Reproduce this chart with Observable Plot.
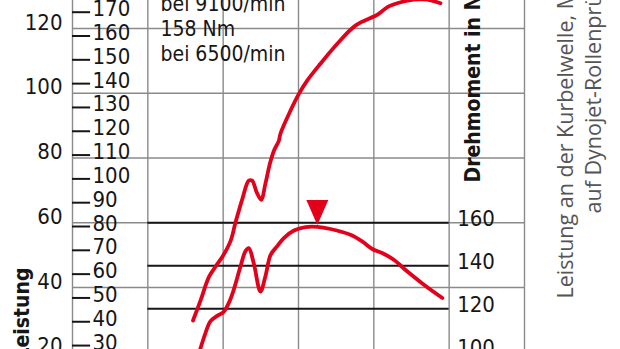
<!DOCTYPE html>
<html><head><meta charset="utf-8">
<script src="https://cdn.jsdelivr.net/npm/d3@7"></script>
<script src="https://cdn.jsdelivr.net/npm/@observablehq/plot@0.6"></script>
<style>
html,body{margin:0;padding:0;background:#fff;overflow:hidden;width:620px;height:349px}
#chart svg{display:block;overflow:hidden}
</style></head><body><div id="chart"></div>
<script>
// ---- data ----
const rpmTicks = [0, 2000, 4000, 6000, 8000, 10000, 12000];
const kwTicks = [20, 40, 60, 80, 100, 120, 140];
const psTicks = [20, 30, 40, 50, 60, 70, 80, 90, 100, 110, 120, 130, 140, 150, 160, 170];
const nmTicks = [100, 120, 140, 160];

const powerRpm = [3200, 3400, 3620, 3800, 4000, 4200, 4330, 4510, 4680, 4770, 4890, 5010, 5120, 5240, 5350, 5480, 5520, 5790, 6010, 6230, 6580, 7030, 7510, 8000, 8130, 8360, 8710, 9060, 9420, 9770];
const powerKw  = [29.8, 36.0, 43.2, 46.5, 49.9, 54.5, 60.2, 67.4, 73.0, 73.0, 69.4, 67.1, 72.0, 78.2, 82.3, 85.4, 87.5, 94.7, 99.8, 103.9, 109.1, 115.3, 120.9, 123.7, 124.5, 126.6, 128.1, 128.9, 128.9, 127.8];

const torqueRpm = [3210, 3400, 3530, 3660, 3840, 4000, 4150, 4280, 4460, 4590, 4680, 4810, 4990, 5120, 5260, 5430, 5610, 5880, 6190, 6500, 6850, 7380, 7690, 7960, 8220, 8530, 8890, 9330, 9820];
const torqueNm  = [90.7, 101.7, 108.7, 114.1, 116.7, 118.3, 122.7, 128.8, 139.7, 146.7, 148.2, 141.3, 128.0, 135.0, 145.1, 149.0, 152.9, 156.4, 158.0, 158.1, 157.1, 154.4, 151.3, 147.8, 145.9, 142.8, 137.3, 131.2, 125.0];

const peakRpm = [6500];
const peakNm = [158];

const noteLines = ["bei 9100/min", "158 Nm", "bei 6500/min"];
const leftTitle = "Leistung";
const torqueTitle = "Drehmoment in Nm";
const sideNoteLines = ["Leistung an der Kurbelwelle, Messung", "auf Dynojet-Rollenprüfstand"];

// ---- scale helpers ----
const KW_PER_PS = 0.7355;
const nmToKw = nm => 60 + (nm - 160) * (2.15 / 3.2375);

const power = powerRpm.map((r, i) => ({rpm: r, kw: powerKw[i]}));
const torque = torqueRpm.map((r, i) => ({rpm: r, nm: torqueNm[i]}));
const peak = peakRpm.map((r, i) => ({rpm: r, nm: peakNm[i]}));

const RED = "#e3001b";
const GRAY = "#8a8a8a";
const INK = "#161616";
const NUMFONT = "'Liberation Sans Narrow', 'DejaVu Sans Condensed', sans-serif";
const TXTFONT = "'DejaVu Sans Condensed', sans-serif";
const psDashRpm = 480;

const downTriangle = {
  draw(ctx) { ctx.moveTo(0, 0); ctx.lineTo(-11, -25); ctx.lineTo(11, -25); ctx.closePath(); }
};

const chart = Plot.plot({
  width: 620, height: 349,
  marginLeft: 72, marginRight: 96, marginTop: 0, marginBottom: 0,
  x: {domain: [0, 12000], axis: null},
  y: {domain: [20.85, 128.65], axis: null},
  style: {background: "#fff", overflow: "hidden"},
  marks: [
    Plot.ruleX(rpmTicks, {stroke: GRAY, strokeWidth: 1.4}),
    Plot.ruleY(kwTicks, {stroke: GRAY, strokeWidth: 1.4}),
    Plot.ruleY(nmTicks, {y: nmToKw, x1: rpmTicks[1], x2: rpmTicks[5], stroke: INK, strokeWidth: 2}),
    Plot.ruleY(psTicks, {y: d => d * KW_PER_PS, x1: rpmTicks[0], x2: psDashRpm, stroke: INK, strokeWidth: 2}),
    // kW labels
    Plot.text(kwTicks, {frameAnchor: "left", y: d => d, text: d => String(d), textAnchor: "end", lineAnchor: "middle", dx: -10, dy: -6, fontSize: 22, fontFamily: NUMFONT, fill: INK}),
    // PS labels
    Plot.text(psTicks, {frameAnchor: "left", y: d => d * KW_PER_PS, text: d => String(d), textAnchor: "start", lineAnchor: "middle", dx: 20, dy: -3, fontSize: 22, fontFamily: NUMFONT, fill: INK}),
    // Nm labels
    Plot.text(nmTicks, {x: () => rpmTicks[5], y: nmToKw, text: d => String(d), textAnchor: "start", lineAnchor: "middle", dx: 8, dy: -3.5, fontSize: 22, fontFamily: NUMFONT, fill: INK}),
    // curves
    Plot.line(power, {x: "rpm", y: "kw", stroke: RED, strokeWidth: 3.8, curve: "catmull-rom", strokeLinejoin: "round", strokeLinecap: "round"}),
    Plot.line(torque, {x: "rpm", y: d => nmToKw(d.nm), stroke: RED, strokeWidth: 3.8, curve: "catmull-rom", strokeLinejoin: "round", strokeLinecap: "round"}),
    Plot.dot(peak, {x: "rpm", y: d => nmToKw(d.nm), symbol: downTriangle, fill: RED, stroke: null, dy: -2}),
    // annotation
    Plot.text([noteLines.join("\n")], {frameAnchor: "top-left", text: d => d, textAnchor: "start", lineAnchor: "top", lineHeight: 1.19, dx: 88, dy: -7, fontSize: 21, fontFamily: TXTFONT, fill: INK}),
    // axis titles
    Plot.text([leftTitle], {frameAnchor: "top-left", text: d => d, rotate: -90, textAnchor: "end", lineAnchor: "middle", dx: -50, dy: 267, fontSize: 21, fontWeight: "bold", fontFamily: TXTFONT, fill: INK}),
    Plot.text([torqueTitle], {frameAnchor: "top-right", text: d => d, rotate: -90, textAnchor: "start", lineAnchor: "middle", dx: -51, dy: 182, fontSize: 21, fontWeight: "bold", fontFamily: TXTFONT, fill: INK}),
    Plot.text([sideNoteLines[0]], {frameAnchor: "top-right", text: d => d, rotate: -90, textAnchor: "start", lineAnchor: "middle", dx: 42, dy: 298, fontSize: 21.5, fontFamily: "'Open Sans', Lato, sans-serif", fill: "#555"}),
    Plot.text([sideNoteLines[1]], {frameAnchor: "top-right", text: d => d, rotate: -90, textAnchor: "start", lineAnchor: "middle", dx: 70, dy: 213, fontSize: 21.5, fontFamily: "'Open Sans', Lato, sans-serif", fill: "#555"})
  ]
});
document.getElementById("chart").appendChild(chart);
</script></body></html>
